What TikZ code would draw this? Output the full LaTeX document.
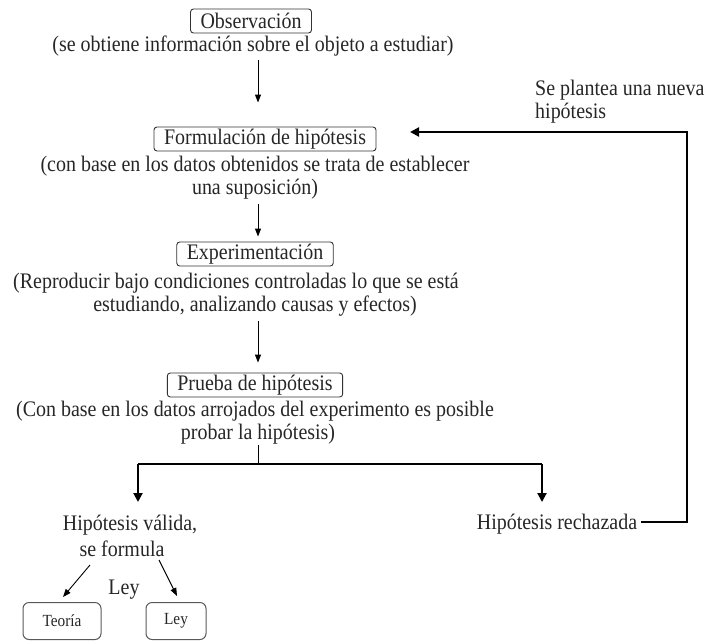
\documentclass[tikz,border=0pt]{standalone}
\usepackage{fontspec}
\setmainfont{Liberation Serif}[FakeStretch=0.9]
\usetikzlibrary{arrows.meta}
\begin{document}
\begin{tikzpicture}[x=1pt,y=-1pt,
  txt/.style={inner sep=0pt, font=\fontsize{22.2}{23}\selectfont, text=black!85},
  stepbox/.style={draw=black!80, line width=0.9pt, rounded corners=3pt, inner xsep=10pt, inner ysep=1pt, minimum height=24pt, font=\fontsize{22.2}{23}\selectfont, text=black!85},
  smallbox/.style={draw=black!65, line width=1pt, rounded corners=6pt, minimum height=37pt, font=\fontsize{17}{18}\selectfont, text=black!85},
  thinline/.style={draw=black, line width=0.9pt},
  thinarrow/.style={draw=black, line width=0.9pt, -{Triangle[width=6pt,length=8pt]}},
  thickline/.style={draw=black, line width=2pt},
  thickarrow/.style={draw=black, line width=2pt, -{Triangle[width=9pt,length=9pt]}},
]
\useasboundingbox (0,0) rectangle (708,642);

% axis for the vertical flow
\coordinate (axis) at (258,0);

% step boxes and their descriptions
\node[stepbox] (obs) at (251,21) {Observación};
\node[txt] (l1) at (253,46) {(se obtiene información sobre el objeto a estudiar)};

\node[stepbox] (form) at (265,139) {Formulación de hipótesis};
\node[txt] (l2) at (255,166) {(con base en los datos obtenidos se trata de establecer};
\node[txt] (l3) at (255,189) {una suposición)};

\node[stepbox] (exp) at (255,254) {Experimentación};
\node[txt] (l4) at (236,283) {(Reproducir bajo condiciones controladas lo que se está};
\node[txt] (l5) at (255,306) {estudiando, analizando causas y efectos)};

\node[stepbox] (prueba) at (255,385) {Prueba de hipótesis};
\node[txt] (l6) at (255,411) {(Con base en los datos arrojados del experimento es posible};
\node[txt] (l7) at (258,434) {probar la hipótesis)};

% feedback label
\node[txt, anchor=west] (nueva1) at (535,90) {Se plantea una nueva};
\node[txt, anchor=west] (nueva2) at (535,113) {hipótesis};

% outcomes
\node[txt] (val1) at (130,525) {Hipótesis válida,};
\node[txt] (val2) at (122,549) {se formula};
\node[txt] (rech) at (557,524) {Hipótesis rechazada};
\node[txt] (leylbl) at (124,590) {Ley};

\node[smallbox, minimum width=78pt] (teoria) at (62,621) {Teoría};
\node[smallbox, minimum width=60pt] (ley) at (176,621) {Ley};

% vertical flow arrows
\draw[thinarrow] ([yshift=-4pt]l1.south -| axis) -- ([yshift=24pt]form.north -| axis);
\draw[thinarrow] ([yshift=-5pt]l3.south -| axis) -- ([yshift=5pt]exp.north -| axis);
\draw[thinarrow] ([yshift=-5pt]l5.south -| axis) -- ([yshift=10pt]prueba.north -| axis);

% split
\coordinate (split) at (258,464);
\coordinate (lt) at (138,502);
\coordinate (rt) at (542,502);
\draw[thinline] ([yshift=-1pt]l7.south -| axis) -- (split);
\draw[thickline] (lt |- split) -- (rt |- split);
\draw[thickarrow] (lt |- split) -- (lt);
\draw[thickarrow] (rt |- split) -- (rt);

% feedback loop
\coordinate (fbx) at (687,0);
\coordinate (fbtip) at (410,132);
\draw[thickarrow] ([xshift=4pt,yshift=2pt]rech.east) -- ([yshift=2pt]rech.east -| fbx) -- (fbx |- fbtip) -- (fbtip);

% diagonal arrows
\coordinate (d1s) at (90,565);
\coordinate (d1e) at (63,597);
\coordinate (d2s) at (159,560);
\coordinate (d2e) at (177,596);
\draw[thinarrow] (d1s) -- (d1e);
\draw[thinarrow] (d2s) -- (d2e);
\end{tikzpicture}
\end{document}
